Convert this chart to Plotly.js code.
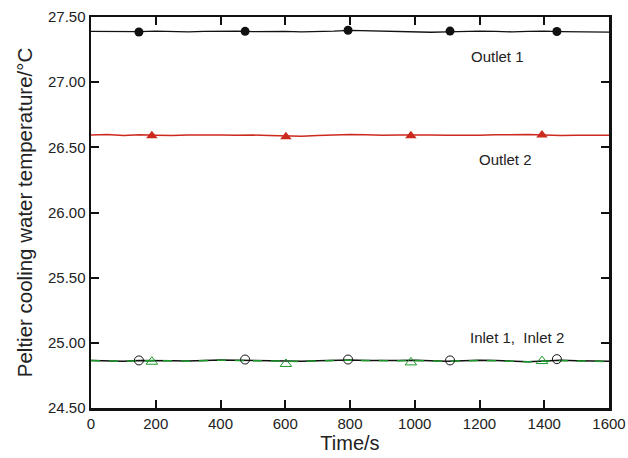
<!DOCTYPE html>
<html>
<head>
<meta charset="utf-8">
<script src="https://cdn.plot.ly/plotly-3.0.1.min.js"></script>
<style>html,body{margin:0;padding:0;background:#fff}#chart{width:628px;height:458px}</style>
</head>
<body>
<div id="chart"></div>
<script>
// Line samples every 50 s
var timeLine = [0,50,100,150,200,250,300,350,400,450,500,550,600,650,700,750,800,850,900,950,1000,1050,1100,1150,1200,1250,1300,1350,1400,1450,1500,1550,1600];
var outlet1 = [27.390,27.388,27.385,27.388,27.392,27.389,27.386,27.390,27.393,27.391,27.388,27.390,27.389,27.386,27.388,27.392,27.398,27.395,27.392,27.388,27.384,27.383,27.386,27.390,27.392,27.389,27.386,27.390,27.392,27.388,27.386,27.385,27.384];
var outlet2 = [26.595,26.598,26.590,26.597,26.593,26.591,26.595,26.597,26.594,26.592,26.594,26.590,26.588,26.585,26.590,26.596,26.598,26.596,26.592,26.595,26.597,26.594,26.592,26.590,26.592,26.597,26.600,26.598,26.594,26.590,26.592,26.594,26.592];
var inlet1 = [24.865,24.862,24.858,24.864,24.866,24.863,24.860,24.864,24.868,24.866,24.864,24.862,24.860,24.858,24.862,24.866,24.868,24.865,24.862,24.864,24.866,24.860,24.858,24.862,24.866,24.864,24.858,24.855,24.860,24.866,24.862,24.860,24.858];
var inlet2 = [24.864,24.861,24.857,24.863,24.865,24.862,24.859,24.863,24.867,24.865,24.863,24.861,24.859,24.857,24.861,24.865,24.867,24.864,24.861,24.863,24.865,24.859,24.857,24.861,24.865,24.863,24.857,24.854,24.859,24.865,24.861,24.859,24.857];

// Marker positions
var timeCircle = [148,476,794,1109,1439];
var outlet1Mk = [27.385,27.390,27.398,27.392,27.389];
var inlet1Mk = [24.865,24.872,24.872,24.865,24.875];
var timeTri = [188,602,988,1393];
var outlet2Mk = [26.588,26.582,26.588,26.594];
var inlet2Mk = [24.855,24.838,24.850,24.860];

var labelText = ["Outlet 1","Outlet 2","Inlet 1,  Inlet 2"];
var labelX = [1257,1279,1316];
var labelY = [27.20,26.41,25.04];

var xTicks = [0,200,400,600,800,1000,1200,1400,1600];
var yTicks = [24.5,25.0,25.5,26.0,26.5,27.0,27.5];
var yTickText = ["24.50","25.00","25.50","26.00","26.50","27.00","27.50"];

var black = '#111111', red = '#cc2a1e', green = '#1a9a2a';
var fam = 'Liberation Sans, Arial, sans-serif';

var traces = [
  {x: timeLine, y: outlet1, mode: 'lines', line: {color: black, width: 1.3}},
  {x: timeLine, y: outlet2, mode: 'lines', line: {color: red, width: 1.5}},
  {x: timeLine, y: inlet1, mode: 'lines', line: {color: black, width: 1.5}},
  {x: timeLine, y: inlet2, mode: 'lines', line: {color: green, width: 1.5, dash: 'dash'}},
  {x: timeCircle, y: outlet1Mk, mode: 'markers', marker: {symbol: 'circle', size: 9, color: black}},
  {x: timeTri, y: outlet2Mk, mode: 'markers', marker: {symbol: 'triangle-up', size: 10, color: red}},
  {x: timeCircle, y: inlet1Mk, mode: 'markers', marker: {symbol: 'circle-open', size: 9, color: black, line: {width: 1}}},
  {x: timeTri, y: inlet2Mk, mode: 'markers', marker: {symbol: 'triangle-up-open', size: 10, color: green, line: {width: 1}}}
];

var annotations = labelText.map(function(t, i){
  return {x: labelX[i], y: labelY[i], text: t, showarrow: false, xref: 'x', yref: 'y',
          font: {family: fam, size: 15, color: '#222'}};
});

var axisCommon = {
  showline: true, linecolor: '#111', linewidth: 2.5, mirror: 'ticks',
  ticks: 'inside', ticklen: 8, tickwidth: 2, tickcolor: '#111',
  showgrid: false, zeroline: false,
  tickfont: {family: fam, size: 15, color: '#222'}
};

var layout = {
  width: 628, height: 458,
  margin: {l: 91, r: 19, t: 17, b: 50},
  paper_bgcolor: '#fff', plot_bgcolor: '#fff',
  showlegend: false,
  xaxis: Object.assign({}, axisCommon, {
    range: [0,1600], tickvals: xTicks, ticktext: xTicks.map(String),
    title: {text: 'Time/s', standoff: 2, font: {family: fam, size: 20, color: '#222'}}
  }),
  yaxis: Object.assign({}, axisCommon, {
    range: [24.5,27.5], tickvals: yTicks, ticktext: yTickText,
    title: {text: 'Peltier cooling water temperature/°C', standoff: 10, font: {family: fam, size: 20.5, color: '#222'}}
  }),
  annotations: annotations
};

Plotly.newPlot('chart', traces, layout, {displayModeBar: false, staticPlot: true});
</script>
</body>
</html>
